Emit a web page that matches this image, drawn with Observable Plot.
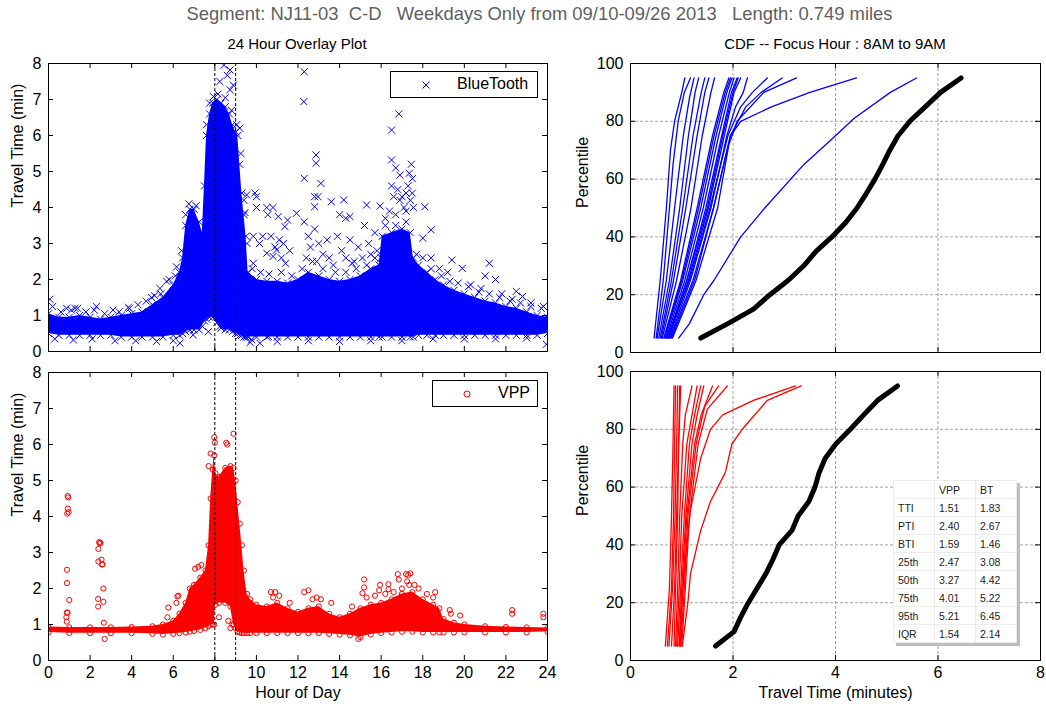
<!DOCTYPE html>
<html><head><meta charset="utf-8">
<script src="https://cdn.jsdelivr.net/npm/d3@7"></script>
<script src="https://cdn.jsdelivr.net/npm/@observablehq/plot@0.6"></script>
<style>
body{margin:0;background:#fff;font-family:"Liberation Sans",Arial,Helvetica,sans-serif;}
#root{position:relative;width:1046px;height:709px;overflow:hidden;background:#fff;}
.abs{position:absolute;}
.legend{position:absolute;border:1px solid #000;background:#fff;box-sizing:border-box;font-size:16px;}
.legend span{position:absolute;top:3px;}
#stats{position:absolute;left:893px;top:480px;border-collapse:collapse;background:#fff;border:1px solid #9a9a9a;box-shadow:3px 3px 0 #bdbdbd;font-size:10.5px;color:#222;}
#stats td{border:1px solid #ececec;height:17px;padding:0 0 0 4px;}
</style></head><body><div id="root"></div>
<script>
// ---------------- DATA ----------------
const hourTicks = [0,2,4,6,8,10,12,14,16,18,20,22,24];
const minTicks = [0,1,2,3,4,5,6,7,8];
const pctTicks = [0,20,40,60,80,100];
const ttTicks = [0,2,4,6,8];
const focusHours = [8,9];
const gridX = [2,4,6];
const gridY = [20,40,60,80];

// BlueTooth dense band (hour, lower edge, upper edge)
const btHour = [0,0.5,1,1.5,2,2.5,3,3.5,4,4.5,5,5.5,6,6.3,6.45,6.6,6.8,7.0,7.25,7.4,7.5,7.6,7.75,7.9,8.1,8.3,8.5,8.7,8.85,9.0,9.1,9.2,9.3,9.4,9.5,9.6,10,10.5,11,11.5,12,12.5,13,13.5,14,14.5,15,15.5,15.9,16.05,16.5,17,17.4,17.55,17.8,18.2,18.6,19,19.5,20,20.5,21,21.5,22,22.5,23,23.5,24];
const btHigh = [1.05,0.95,0.95,1.0,0.95,0.9,0.95,1.0,1.05,1.1,1.3,1.5,1.85,2.2,2.6,3.5,3.95,3.95,3.6,3.3,4.6,6.0,6.6,6.9,7.0,6.9,6.8,6.6,6.3,6.1,6.0,5.2,4.4,3.8,3.2,2.2,2.0,1.95,1.95,1.9,2.0,2.2,2.1,2.0,1.95,2.0,2.1,2.3,2.4,3.2,3.3,3.4,3.3,2.6,2.4,2.2,2.0,1.85,1.7,1.6,1.5,1.4,1.35,1.25,1.2,1.1,1.0,0.95];
const btLow = [0.5,0.45,0.45,0.45,0.45,0.45,0.45,0.4,0.4,0.4,0.4,0.4,0.45,0.45,0.5,0.55,0.6,0.6,0.6,0.7,0.85,0.9,0.95,0.95,0.8,0.65,0.6,0.6,0.55,0.5,0.5,0.45,0.45,0.4,0.4,0.4,0.4,0.4,0.4,0.4,0.4,0.4,0.4,0.4,0.4,0.4,0.4,0.4,0.4,0.4,0.4,0.4,0.4,0.4,0.45,0.45,0.45,0.45,0.45,0.45,0.45,0.45,0.45,0.45,0.45,0.45,0.45,0.5];
// BlueTooth scattered observations outside the band
const btOutHour = [0.07,0.87,1.27,2.3,3.83,4.96,5.36,5.68,6.16,6.32,6.96,7.69,8.25,9.2,9.77,10.17,10.57,8.44,8.73,8.24,8.89,8.6,7.93,8.73,9.2,9.53,9.93,10.0,10.0,9.45,10.5,10.55,11.05,11.37,11.93,9.85,10.15,10.3,10.5,10.8,10.97,11.1,11.3,9.85,12.3,12.28,12.87,12.87,12.3,13.1,12.8,12.96,12.8,13.6,14.2,14.0,14.5,14.3,15.3,15.95,16.5,16.85,16.5,16.7,16.9,18.1,18.4,18.0,19.4,19.9,21.2,21.0,21.5,22.5,22.8,11.5,10.8,16.5,16.6,16.8,17.0,17.1,17.3,17.4,17.2,16.4,16.2,17.35,17.45,17.5,17.2,16.9,17.5,17.55,16.7,10.7,10.9,11.2,11.4,11.6,12.3,12.5,12.6,12.8,13.0,13.2,13.4,13.5,12.9,12.4,13.9,14.1,14.3,14.5,14.7,14.9,15.2,15.4,15.5,15.7,15.8,16.0,15.1,14.6,13.7,18.4,18.8,19.2,20.3,20.8,21.8,22.3,23.2,23.8,23.95,
  0.2,0.6,1.1,1.4,1.8,2.2,2.7,3.1,3.4,3.9,4.3,4.7,5.1,5.4,5.8,6.1,6.4,6.6,6.75,7.1,7.6,7.75,8.15,8.5,8.8,9.05,9.25,9.4,9.55,9.8,10.2,10.6,11.2,11.7,12.2,12.7,13.2,13.8,14.3,14.8,15.3,15.7,16.2,16.7,17.2,17.7,18.0,18.4,18.9,19.3,19.7,20.2,20.7,21.2,21.7,22.2,22.7,23.2,23.7,
  0.3,1.2,2.1,3.2,4.2,5.2,6.0,9.7,11.0,12.5,14.0,15.5,17.0,18.5,20.0,21.5,23.0];
const btOutMin = [1.45,1.2,1.2,1.25,1.22,1.5,1.75,1.95,2.35,0.23,0.46,0.55,0.7,0.7,0.33,0.23,0.42,7.95,7.82,7.5,7.4,7.67,7.08,7.27,6.2,4.35,4.4,4.3,4.0,3.86,4.0,3.8,3.75,3.47,3.84,3.2,3.0,3.2,2.73,2.64,2.82,3.1,3.0,2.45,7.77,6.94,5.46,5.23,4.81,4.67,4.3,4.3,4.02,4.16,4.21,3.8,3.75,3.7,4.07,4.04,6.15,6.6,5.32,5.1,4.9,4.02,3.38,3.15,2.54,2.31,2.45,2.1,2.0,1.67,1.53,3.65,4.0,4.6,4.3,4.5,4.3,4.0,4.6,4.2,3.9,3.9,3.7,4.95,5.2,4.8,4.4,4.2,4.4,4.0,3.8,3.2,2.9,2.6,2.45,2.8,3.6,3.2,2.9,3.4,3.0,2.7,3.1,2.6,2.5,2.6,3.2,2.8,2.6,3.1,2.5,2.9,3.5,3.0,2.7,3.3,2.8,2.6,2.6,2.45,2.4,2.6,2.3,2.2,1.85,1.75,1.6,1.45,1.35,1.25,0.2,
  1.25,1.1,1.15,1.2,1.1,1.15,1.05,1.15,1.1,1.2,1.3,1.4,1.55,1.6,2.0,2.1,2.8,3.8,4.1,4.05,6.3,6.9,7.15,7.05,6.7,6.3,5.5,4.2,3.0,2.3,2.2,2.15,2.2,2.1,2.3,2.5,2.3,2.2,2.2,2.3,2.4,2.6,3.5,3.5,3.6,2.7,2.6,2.3,2.1,1.95,1.9,1.8,1.65,1.6,1.5,1.4,1.35,1.25,1.2,
  0.35,0.32,0.35,0.3,0.3,0.28,0.3,0.25,0.28,0.3,0.28,0.3,0.3,0.35,0.35,0.35,0.38];

// VPP dense band
const vppHour = [0,1,2,3,4,5,5.5,6,6.3,6.6,6.8,7.0,7.3,7.55,7.7,7.8,7.9,7.97,8.03,8.2,8.5,8.75,8.9,9.0,9.1,9.2,9.3,9.4,9.55,9.7,10,10.5,11,11.5,12,12.5,13,13.5,14,14.5,15,15.5,16,16.5,17,17.5,18,18.5,18.8,19,19.5,20,21,22,23,24];
const vppHigh = [0.93,0.92,0.92,0.92,0.93,0.95,1.0,1.1,1.3,1.6,2.0,2.1,2.3,2.5,3.2,4.5,5.3,5.7,5.2,5.1,5.35,5.4,5.35,5.0,4.4,3.8,3.2,2.5,1.85,1.7,1.55,1.5,1.6,1.45,1.35,1.45,1.5,1.3,1.2,1.3,1.45,1.55,1.6,1.7,1.85,1.9,1.7,1.55,1.45,1.15,1.05,1.0,0.95,0.93,0.92,0.9];
const vppLow = [0.78,0.76,0.76,0.76,0.76,0.74,0.72,0.74,0.76,0.78,0.8,0.82,0.85,0.9,0.95,1.0,1.0,1.0,1.55,1.6,1.6,1.5,1.0,0.9,0.8,0.78,0.76,0.76,0.76,0.76,0.76,0.76,0.76,0.76,0.76,0.76,0.76,0.74,0.72,0.7,0.65,0.72,0.76,0.78,0.8,0.8,0.78,0.78,0.78,0.78,0.78,0.78,0.78,0.78,0.78,0.8];
// VPP scattered observations
const vppOutHour = [0.92,0.95,0.93,0.9,0.97,0.89,0.89,1.0,0.88,0.92,0.86,0.88,2.44,2.47,2.4,2.5,2.4,2.55,2.57,2.6,2.64,2.39,2.39,2.64,2.66,2.7,5.76,5.72,6.2,6.15,6.25,7.05,7.2,7.35,7.97,8.0,8.55,8.6,8.9,7.8,7.7,8.2,8.65,8.75,8.85,15.18,15.18,15.1,15.95,15.9,16.35,16.35,16.8,17.2,17.3,17.4,17.25,17.35,16.85,17.8,18.6,10.7,10.9,12.3,12.5,13.1,19.3,19.35,19.8,22.3,22.3,23.8,23.8,14.9,
  10.8,11.1,11.6,12.7,12.9,13.6,14.6,15.3,15.7,16.2,16.6,17.0,17.6,18.2,18.5];
const vppOutMin = [4.57,4.53,4.22,4.08,4.12,2.52,2.15,1.68,1.33,1.33,1.2,1.08,3.29,3.25,3.1,3.27,2.75,2.8,2.67,2.67,2.0,1.71,1.5,1.63,1.05,0.6,1.47,1.2,1.78,1.6,1.8,2.55,2.6,2.65,6.2,6.05,6.05,6.0,6.3,5.75,5.4,1.2,1.1,0.9,1.0,2.25,2.03,1.87,2.1,1.95,2.12,1.98,2.4,2.4,2.38,2.42,2.2,2.1,2.25,2.0,1.9,1.9,1.9,1.9,1.95,1.7,1.4,1.3,1.25,1.4,1.3,1.3,1.2,0.6,
  1.75,1.8,1.6,1.7,1.75,1.6,1.5,1.75,1.8,1.85,1.9,2.0,2.1,1.85,1.75];

// CDF curves, each point = [travel time (min), percentile]
const btCdfLines = [
  [[0.46,5],[0.58,25],[0.7,50],[0.78,70],[0.86,80],[1.0,90],[1.06,95]],
  [[0.5,5],[0.64,25],[0.76,50],[0.83,65],[0.93,80],[1.05,90],[1.17,95]],
  [[0.52,5],[0.7,25],[0.86,50],[1.03,75],[1.15,88],[1.24,95]],
  [[0.55,5],[0.76,25],[0.96,50],[1.13,75],[1.26,90],[1.33,95]],
  [[0.58,5],[0.8,25],[1.02,50],[1.22,75],[1.38,90],[1.45,95]],
  [[0.6,5],[0.84,25],[1.08,50],[1.3,75],[1.45,90],[1.53,95]],
  [[0.62,5],[0.9,25],[1.18,50],[1.4,75],[1.57,90],[1.64,95]],
  [[0.65,5],[0.98,25],[1.3,50],[1.6,75],[1.82,90],[1.92,95]],
  [[0.66,5],[1.0,25],[1.33,50],[1.63,75],[1.85,90],[1.95,95]],
  [[0.68,5],[1.02,25],[1.37,50],[1.67,75],[1.88,90],[1.98,95]],
  [[0.7,5],[1.06,25],[1.42,50],[1.72,75],[1.93,90],[2.02,95]],
  [[0.72,5],[1.1,25],[1.47,50],[1.78,75],[1.97,90],[2.08,95]],
  [[0.74,5],[1.1,25],[1.5,50],[1.8,75],[2.0,90],[2.1,95]],
  [[0.75,5],[1.13,25],[1.52,50],[1.83,75],[2.02,90],[2.15,95]],
  [[0.77,5],[1.17,25],[1.57,50],[1.88,75],[2.05,85],[2.2,90],[2.28,95]],
  [[0.72,5],[1.15,25],[1.55,50],[1.9,75],[2.15,85],[2.38,90],[2.67,95]],
  [[0.78,5],[1.22,25],[1.62,50],[1.95,75],[2.25,85],[2.55,90],[2.96,95]],
  [[0.82,5],[1.28,25],[1.7,50],[1.92,72],[2.08,80],[2.6,90],[3.24,95]],
  [[0.8,5],[1.25,25],[1.62,50],[1.95,75],[2.15,80],[2.75,85],[3.5,90],[4.41,95]],
  [[0.94,5],[1.15,10],[1.43,20],[1.63,25],[2.15,40],[2.62,50],[3.38,65],[4.0,75],[4.36,81],[5.07,90],[5.58,95]]
];
const vppCdfLines = [
  [[0.68,5],[0.76,25],[0.8,50],[0.83,75],[0.85,95]],
  [[0.72,5],[0.8,25],[0.84,50],[0.86,75],[0.88,95]],
  [[0.75,5],[0.82,25],[0.87,50],[0.9,75],[0.92,95]],
  [[0.8,5],[0.86,25],[0.9,50],[0.94,75],[0.98,95]],
  [[0.85,5],[0.88,25],[0.92,50],[0.94,75],[0.96,95]],
  [[0.88,5],[0.92,25],[0.96,50],[1.02,75],[1.07,85],[1.2,95]],
  [[0.9,5],[0.95,25],[1.0,50],[1.1,75],[1.2,85],[1.3,95]],
  [[0.92,5],[0.98,25],[1.05,50],[1.15,75],[1.25,85],[1.37,95]],
  [[0.95,5],[1.0,25],[1.08,50],[1.2,75],[1.3,85],[1.43,95]],
  [[0.97,5],[1.02,25],[1.1,50],[1.25,75],[1.38,85],[1.6,95]],
  [[0.98,5],[1.05,25],[1.12,50],[1.28,75],[1.45,88],[1.72,95]],
  [[1.0,5],[1.07,25],[1.15,50],[1.32,75],[1.5,87],[1.89,95]],
  [[1.01,5],[1.12,20],[1.17,30],[1.37,45],[1.56,55],[1.85,65],[1.98,75],[2.18,80],[2.67,90],[3.33,95]],
  [[0.95,5],[1.02,25],[1.1,40],[1.17,52],[1.37,70],[1.56,80],[1.8,85],[2.4,90],[3.22,95]]
];
// Focus hour (8AM-9AM) CDFs
const focusPct = [5,10,15,20,25,30,35,40,45,50,55,60,65,70,75,80,85,90,95];
const btFocus = [1.37,1.9,2.4,2.72,3.08,3.38,3.62,3.93,4.2,4.42,4.6,4.77,4.92,5.06,5.22,5.45,5.75,6.05,6.45];
const vppFocus = [1.66,2.02,2.15,2.3,2.47,2.64,2.78,2.9,3.15,3.27,3.48,3.6,3.68,3.8,4.01,4.29,4.55,4.82,5.21];

// Stats table
const statNames = ["TTI","PTI","BTI","25th","50th","75th","95th","IQR"];
const statVPP = ["1.51","2.40","1.59","2.47","3.27","4.01","5.21","1.54"];
const statBT = ["1.83","2.67","1.46","3.08","4.42","5.22","6.45","2.14"];

// ---------------- DRAW ----------------
const FONT = '"Liberation Sans", Arial, Helvetica, sans-serif';
const BLUE = "#0000ff", RED = "#ff0000";
const root = document.getElementById("root");

const btEnv = btHour.map((h,i)=>({h, lo: btLow[i], hi: btHigh[i]}));
const btOut = btOutHour.map((h,i)=>({h, v: btOutMin[i]}));
const vppEnv = vppHour.map((h,i)=>({h, lo: vppLow[i], hi: vppHigh[i]}));
const vppOut = vppOutHour.map((h,i)=>({h, v: vppOutMin[i]}));
const flat = lines => lines.flatMap((pts,i)=>pts.map(([v,p])=>({id:i, v, p})));
const btCdf = flat(btCdfLines), vppCdf = flat(vppCdfLines);
const btF = focusPct.map((p,i)=>({p, v: btFocus[i]}));
const vppF = focusPct.map((p,i)=>({p, v: vppFocus[i]}));

function panel(o){
  const fw = o.width - o.ml - o.mr, fh = o.height - o.mt - o.mb;
  const marks = [
    ...o.marks,
    Plot.tickX(o.xTicks, {x: d=>d, insetTop: fh-5, stroke:"black"}),
    Plot.tickX(o.xTicks, {x: d=>d, insetBottom: fh-5, stroke:"black"}),
    Plot.tickY(o.yTicks, {y: d=>d, insetRight: fw-5, stroke:"black"}),
    Plot.tickY(o.yTicks, {y: d=>d, insetLeft: fw-5, stroke:"black"}),
    Plot.frame({stroke:"black", strokeWidth: 1}),
    Plot.axisY(o.yTicks, {tickSize: 0, tickPadding: 7, label: null}),
    Plot.text([o.yLabel], {text: d=>d, frameAnchor: "left", dx: o.yLabelDx, rotate: -90, fontSize: 16})
  ];
  if (o.showX) marks.push(Plot.axisX(o.xTicks, {tickSize: 0, tickPadding: 6, label: null}));
  if (o.xLabel) marks.push(Plot.text([o.xLabel], {text: d=>d, frameAnchor: "bottom", dy: 37, fontSize: 16}));
  const svg = Plot.plot({
    width: o.width, height: o.height,
    marginLeft: o.ml, marginRight: o.mr, marginTop: o.mt, marginBottom: o.mb,
    x: o.showX ? {domain: o.xDomain} : {domain: o.xDomain, axis: null},
    y: {domain: o.yDomain},
    style: {fontFamily: FONT, fontSize: "16px", color: "black", background: "transparent", overflow: "visible"},
    marks
  });
  const d = document.createElement("div");
  d.className = "abs";
  d.style.left = o.left + "px"; d.style.top = o.top + "px";
  d.appendChild(svg);
  root.appendChild(d);
}

const scatterMarks = (env, out, color, symbol, r) => [
  Plot.areaY(env, {x: "h", y1: "lo", y2: "hi", fill: color, clip: true}),
  Plot.dot(env, {x: "h", y: "hi", symbol, r, stroke: color, strokeWidth: 1, clip: true}),
  Plot.dot(env, {x: "h", y: "lo", symbol, r, stroke: color, strokeWidth: 1, clip: true}),
  Plot.dot(out, {x: "h", y: "v", symbol, r, stroke: color, strokeWidth: 1, clip: true}),
  Plot.ruleX(focusHours, {x: d=>d, stroke: "black", strokeWidth: 1, strokeDasharray: "3,2"})
];

// Top-left: BlueTooth
panel({left: 0, top: 40, width: 560, height: 322, ml: 48, mr: 13, mt: 23, mb: 11,
  xDomain: [0,24], yDomain: [0,8], xTicks: hourTicks, yTicks: minTicks, showX: false,
  yLabel: "Travel Time (min)", yLabelDx: -31,
  marks: scatterMarks(btEnv, btOut, BLUE, "times", 3.3)});
// Bottom-left: VPP
panel({left: 0, top: 362, width: 560, height: 347, ml: 48, mr: 13, mt: 10, mb: 49,
  xDomain: [0,24], yDomain: [0,8], xTicks: hourTicks, yTicks: minTicks, showX: true,
  yLabel: "Travel Time (min)", yLabelDx: -31, xLabel: "Hour of Day",
  marks: scatterMarks(vppEnv, vppOut, RED, "circle", 2.6)});

const cdfMarks = (data, focus, color) => [
  Plot.ruleX(gridX, {x: d=>d, stroke: "#8a8a8a", strokeWidth: 0.8, strokeDasharray: "3,2"}),
  Plot.ruleY(gridY, {y: d=>d, stroke: "#8a8a8a", strokeWidth: 0.8, strokeDasharray: "3,2"}),
  Plot.line(data, {x: "v", y: "p", z: "id", stroke: color, strokeWidth: 1.3}),
  Plot.line(focus, {x: "v", y: "p", stroke: "black", strokeWidth: 5})
];
// Top-right
panel({left: 560, top: 40, width: 486, height: 322, ml: 70, mr: 6, mt: 23, mb: 10,
  xDomain: [0,8], yDomain: [0,100], xTicks: ttTicks, yTicks: pctTicks, showX: false,
  yLabel: "Percentile", yLabelDx: -48,
  marks: cdfMarks(btCdf, btF, BLUE)});
// Bottom-right
panel({left: 560, top: 362, width: 486, height: 347, ml: 70, mr: 6, mt: 9, mb: 49,
  xDomain: [0,8], yDomain: [0,100], xTicks: ttTicks, yTicks: pctTicks, showX: true,
  yLabel: "Percentile", yLabelDx: -48, xLabel: "Travel Time (minutes)",
  marks: cdfMarks(vppCdf, vppF, RED)});

// Titles
function addText(txt, x, y, size, color, anchorCenter, targetWidth, family){
  const s = document.createElement("div");
  s.className = "abs";
  s.textContent = txt;
  s.style.whiteSpace = "pre";
  s.style.fontSize = size + "px";
  s.style.color = color;
  s.style.top = y + "px";
  if (family) s.style.fontFamily = family;
  root.appendChild(s);
  const w = s.getBoundingClientRect().width;
  let sc = 1;
  if (targetWidth) sc = targetWidth / w;
  s.style.left = (x - (anchorCenter ? w/2 : 0)) + "px";
  s.style.transformOrigin = "50% 50%";
  if (sc !== 1) s.style.transform = `scaleX(${sc})`;
}
addText("Segment: NJ11-03  C-D   Weekdays Only from 09/10-09/26 2013   Length: 0.749 miles", 540, 3, 19, "#5f5f5f", true, 706, '"Liberation Sans Narrow","Liberation Sans",Arial,sans-serif');
addText("24 Hour Overlay Plot", 297, 35, 15, "#000", true);
addText("CDF -- Focus Hour : 8AM to 9AM", 835, 35, 15, "#000", true);

// Legends
function legend(left, top, w, label, color, sym, markX, textX){
  const d = document.createElement("div");
  d.className = "legend";
  d.style.left = left + "px"; d.style.top = top + "px";
  d.style.width = w + "px"; d.style.height = "27px";
  const m = sym === "times"
    ? `<svg width="10" height="10" style="position:absolute;left:${markX-5}px;top:8px"><path d="M1.5,1.5L8.5,8.5M8.5,1.5L1.5,8.5" stroke="${color}" stroke-width="1"/></svg>`
    : `<svg width="10" height="10" style="position:absolute;left:${markX-5}px;top:8px"><circle cx="5" cy="5" r="3" fill="none" stroke="${color}" stroke-width="1"/></svg>`;
  d.innerHTML = m + `<span style="left:${textX}px">${label}</span>`;
  root.appendChild(d);
}
legend(390, 71, 148, "BlueTooth", BLUE, "times", 35, 66);
legend(432, 380, 106, "VPP", RED, "circle", 34, 65);

// Stats table
const tbl = document.createElement("table");
tbl.id = "stats";
let html = `<tr><td style="width:36px"></td><td style="width:36px">VPP</td><td style="width:36px">BT</td></tr>`;
statNames.forEach((n,i)=>{ html += `<tr><td>${n}</td><td>${statVPP[i]}</td><td>${statBT[i]}</td></tr>`; });
tbl.innerHTML = html;
root.appendChild(tbl);
</script></body></html>
